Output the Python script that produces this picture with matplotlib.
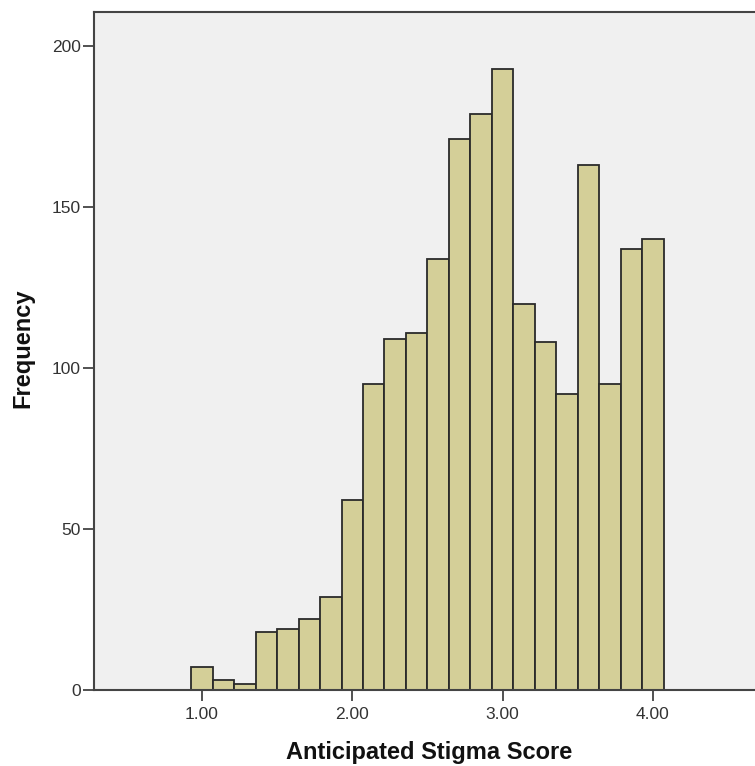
import matplotlib
matplotlib.use("Agg")
import matplotlib.pyplot as plt
import numpy as np

# Data
bin_centers = [1 + k / 7 for k in range(22)]
bin_width = 1 / 7
frequencies = [7, 3, 2, 18, 19, 22, 29, 59, 95, 109, 111, 134, 171, 179, 193,
               120, 108, 92, 163, 95, 137, 140]
x_ticks = [1.0, 2.0, 3.0, 4.0]
x_tick_labels = ["1.00", "2.00", "3.00", "4.00"]
y_ticks = [0, 50, 100, 150, 200]
x_label = "Anticipated Stigma Score"
y_label = "Frequency"

plt.rcParams['font.family'] = ['Liberation Sans', 'DejaVu Sans']

W, H = 755, 766
fig = plt.figure(figsize=(W / 100, H / 100), dpi=100)
left, right, top, bottom = 94, 755, 12, 690
ax = fig.add_axes([left / W, 1 - bottom / H, (right - left) / W, (bottom - top) / H])
ax.set_facecolor('#f0f0f0')

ax.bar(bin_centers, frequencies, width=bin_width, color='#d4cf98',
       edgecolor='#2a2a2a', linewidth=1.3, zorder=2)

ax.set_xlim(0.281, 4.68)
ax.set_ylim(0, 210.6)
ax.set_xticks(x_ticks)
ax.set_xticklabels(x_tick_labels)
ax.set_yticks(y_ticks)
ax.tick_params(axis='both', direction='out', length=8, width=1.2, color='#333333',
               labelsize=12.5, labelcolor='#333333', pad=1.5)
ax.tick_params(axis='x', pad=4)
for s in ['left', 'bottom', 'top']:
    ax.spines[s].set_color('#444444')
    ax.spines[s].set_linewidth(1.5)
ax.spines['right'].set_visible(False)

fig.text(429 / W, 1 - 753 / H, x_label, ha='center', va='center',
         fontsize=17, fontweight='bold', color='#111111')
fig.text(23 / W, 1 - 348 / H, y_label, ha='center', va='center', rotation=90,
         fontsize=17, fontweight='bold', color='#111111')

fig.savefig('out.png', dpi=100)
